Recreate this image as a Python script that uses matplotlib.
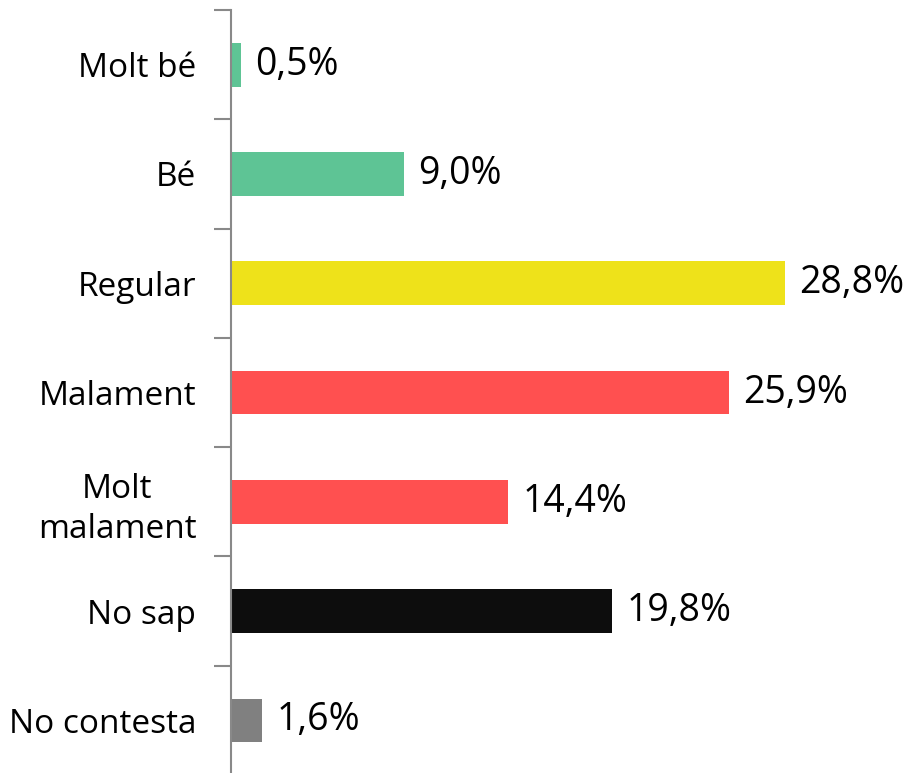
import matplotlib.pyplot as plt
import numpy as np

# survey answers, top to bottom
categories = ["Molt bé", "Bé", "Regular", "Malament", "Molt\nmalament", "No sap", "No contesta"]
values = [0.5, 9.0, 28.8, 25.9, 14.4, 19.8, 1.6]
colors = ["#5EC495", "#5EC495", "#EEE21A", "#FF5050", "#FF5050", "#0D0D0D", "#808080"]

plt.rcParams['font.family'] = ['Open Sans', 'DejaVu Sans']

fig = plt.figure(figsize=(9.08, 7.73), dpi=100)
ax = fig.add_axes([231 / 908, -2 / 773, 677 / 908, 765 / 773])

pos = np.arange(len(categories))
ax.barh(pos, values, height=0.4, color=colors)
ax.set_ylim(len(categories) - 0.5, -0.5)
ax.set_xlim(0, 35.2)

for p, v in zip(pos, values):
    ax.text(v + 0.75, p, f"{v:.1f}%".replace(".", ","), va="center", ha="left",
            fontsize=27, color="black")

ax.set_yticks(pos)
ax.set_yticklabels(categories, fontsize=24, multialignment="center", linespacing=1.3)
ax.tick_params(axis="y", which="major", length=0, pad=25)
ax.set_yticks(np.arange(len(categories) + 1) - 0.5, minor=True)
ax.tick_params(axis="y", which="minor", length=12, width=1.5, color="#898989", direction="out")
ax.set_xticks([])

for side in ["top", "right", "bottom"]:
    ax.spines[side].set_visible(False)
ax.spines["left"].set_color("#898989")
ax.spines["left"].set_linewidth(1.5)

fig.savefig("out.png", dpi=100)
